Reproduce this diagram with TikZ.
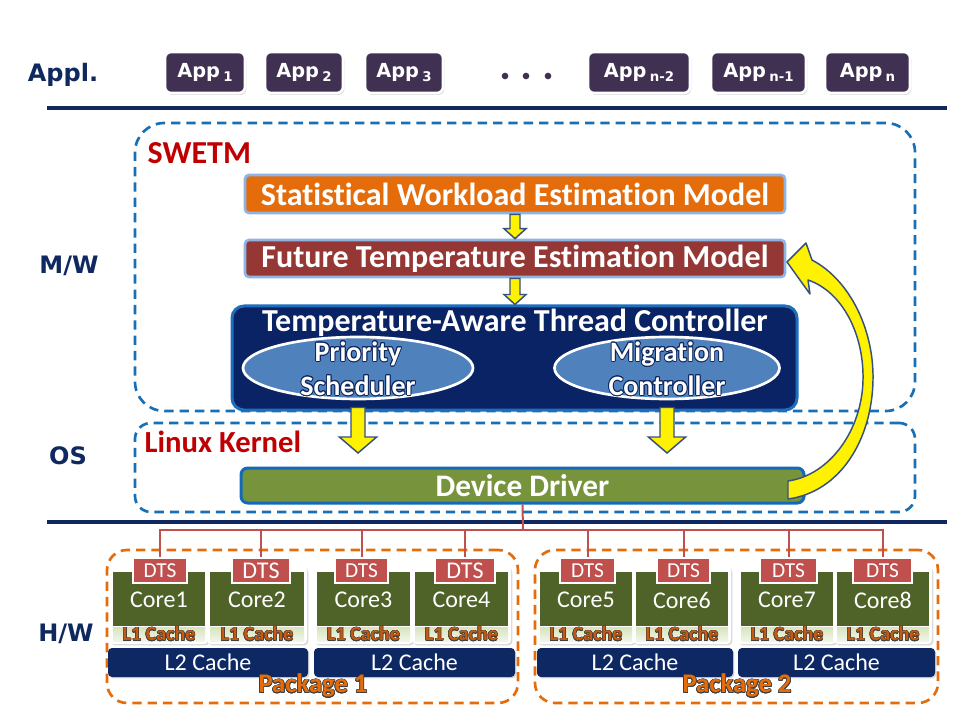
\documentclass[tikz,border=0pt]{standalone}
\usepackage{fontspec}
\setmainfont{Carlito}[Ligatures=NoCommon]
\newfontfamily\vfont{DejaVu Sans}
\usepackage{contour}
\usetikzlibrary{shadows,fit,calc,shapes.geometric}
\definecolor{navy}{RGB}{16,40,96}
\definecolor{appc}{RGB}{64,49,82}
\definecolor{dashblue}{RGB}{23,111,181}
\definecolor{swemc}{RGB}{228,108,10}
\definecolor{lblue}{RGB}{141,180,226}
\definecolor{ftemc}{RGB}{149,55,53}
\definecolor{tatcc}{RGB}{10,35,100}
\definecolor{tatcb}{RGB}{30,110,190}
\definecolor{ellc}{RGB}{79,129,189}
\definecolor{arrline}{RGB}{55,80,125}
\definecolor{ddc}{RGB}{119,147,60}
\definecolor{ddb}{RGB}{20,105,185}
\definecolor{busc}{RGB}{192,80,77}
\definecolor{corec}{RGB}{79,98,40}
\definecolor{l1c}{RGB}{215,228,189}
\definecolor{l1t}{RGB}{197,90,17}
\definecolor{l2c}{RGB}{14,40,100}
\definecolor{pkgc}{RGB}{228,108,10}
\definecolor{swetmred}{RGB}{192,0,0}
\newcommand\appsub[1]{App\,{\fontsize{10}{10}\selectfont\raisebox{-3pt}{#1}}}
\newcommand\yarrow[5]{\path[yarr] let \p1=(#1), \p2=(#2) in (\x1-#3,\y1) -- (\x1-#3,\y2+#5) -- (\x1-#4,\y2+#5) -- (\x1,\y2) -- (\x1+#4,\y2+#5) -- (\x1+#3,\y2+#5) -- (\x1+#3,\y1) -- cycle;}
\begin{document}
\begin{tikzpicture}[x=0.75pt,y=-0.75pt,
  layer/.style={font=\vfont\bfseries\fontsize{18}{20}\selectfont, text=navy},
  appbox/.style={fill=appc, draw=white, line width=2pt, rounded corners=4.5pt, minimum height=30.75pt, text=white, font=\vfont\bfseries\fontsize{14.5}{15}\selectfont, drop shadow={shadow xshift=1pt, shadow yshift=-1.5pt, opacity=0.3}, inner sep=0pt},
  dot/.style={circle, fill=appc, inner sep=0pt, minimum size=5pt},
  sep/.style={draw=navy, line width=2.4pt},
  region/.style={draw=dashblue, line width=2pt, dash pattern=on 7pt off 4.5pt, inner sep=0pt},
  model/.style={draw=lblue, line width=2pt, rounded corners=3pt, minimum width=405pt, text=white, font=\bfseries\fontsize{24}{26}\selectfont, inner sep=0pt},
  tatcbox/.style={fill=tatcc, draw=tatcb, line width=2.25pt, rounded corners=9pt, minimum width=423.75pt, minimum height=78pt, inner sep=0pt},
  ell/.style={ellipse, fill=ellc, draw=white, line width=2pt, inner sep=0pt},
  elltext/.style={align=center, text=white, font=\bfseries\fontsize{21}{25.5}\selectfont},
  yarr/.style={fill=yellow, draw=arrline, line width=1.1pt, line join=miter},
  ddbox/.style={fill=ddc, draw=ddb, line width=2.25pt, rounded corners=5pt, minimum width=422.25pt, minimum height=26.25pt, text=white, font=\bfseries\fontsize{23.5}{24}\selectfont, inner sep=0pt},
  bus/.style={draw=busc, line width=1.5pt},
  pkg/.style={draw=pkgc, line width=2pt, dash pattern=on 7pt off 4.5pt, rounded corners=15pt, inner sep=0pt},
  card/.style={fill=white, rounded corners=3pt, inner sep=0pt, drop shadow={shadow xshift=1pt, shadow yshift=-1pt, opacity=0.3}},
  coreg/.style={fill=corec, inner sep=0pt},
  coretext/.style={text=white, font=\fontsize{18}{20}\selectfont},
  l1/.style={top color=l1c, bottom color=l1c!35!white, inner sep=0pt},
  l1text/.style={text=l1t, font=\bfseries\fontsize{15}{15}\selectfont},
  dts/.style={fill=busc, draw=white, line width=2pt, minimum height=18.75pt, inner sep=0pt, text=white},
  l2/.style={fill=l2c, rounded corners=3pt, inner sep=0pt, drop shadow={shadow xshift=1pt, shadow yshift=-1pt, opacity=0.3}},
  l2text/.style={text=white, font=\fontsize{18}{20}\selectfont},
  pkgtext/.style={text=pkgc, font=\bfseries\fontsize{20}{20}\selectfont},
  redlabel/.style={anchor=west, text=swetmred, font=\bfseries\fontsize{#1}{#1}\selectfont}
]
\useasboundingbox[fill=white] (0,0) rectangle (960,720);

% layer labels
\node[layer] (appl) at (63,75) {Appl.};
\node[layer] (mw) at (69,266) {M/W};
\node[layer] (os) at (68,456) {OS};
\node[layer] (hw) at (66,634) {H/W};

% applications
\node[appbox, minimum width=60pt] (app1) at (205,72.5) {\appsub{1}};
\node[appbox, minimum width=58.5pt] (app2) at (304,72.5) {\appsub{2}};
\node[appbox, minimum width=58.5pt] (app3) at (404,72.5) {\appsub{3}};
\node[appbox, minimum width=76.5pt] (appn2) at (639,72.5) {\appsub{n-2}};
\node[appbox, minimum width=71.25pt] (appn1) at (758.5,72.5) {\appsub{n-1}};
\node[appbox, minimum width=63.75pt] (appn) at (867.5,72.5) {\appsub{n}};
\node[dot] (dot1) at (505,76) {};
\node[dot] (dot2) at (526,76) {};
\node[dot] (dot3) at (548,76) {};

% separators
\coordinate (s1l) at (47,108); \coordinate (s1r) at (947,108);
\coordinate (s2l) at (47,522); \coordinate (s2r) at (947,522);
\draw[sep] (s1l) -- (s1r);
\draw[sep] (s2l) -- (s2r);

% regions
\node[region, rounded corners=22pt, fit={(135,123)(915,411)}] (swetm) {};
\node[region, rounded corners=12pt, fit={(135,423)(915,512)}] (kernel) {};
\node[redlabel=24] (swetml) at (143,153) {SWETM};
\node[redlabel=23] (kernell) at (140,442) {Linux Kernel};

% middleware models
\node[model, fill=swemc, minimum height=28.5pt] (swem) at (515,194) {Statistical Workload Estimation Model};
\node[model, fill=ftemc, minimum height=27.75pt] (ftem) at (515,258.5) {Future Temperature Estimation Model};
\node[tatcbox] (tatc) at (514.5,358) {};
\node[text=white, font=\bfseries\fontsize{24}{26}\selectfont] (tatct) at (515,323) {Temperature-Aware Thread Controller};
\node[ell, minimum width=172.5pt, minimum height=46.5pt] (ps) at (358,368) {};
\node[elltext] (pst) at (358,369) {\contour{navy}{Priority}\\\contour{navy}{Scheduler}};
\node[ell, minimum width=168.75pt, minimum height=46.5pt] (mc) at (667,368) {};
\node[elltext] (mct) at (667,369) {\contour{navy}{Migration}\\\contour{navy}{Controller}};

\yarrow{swem.south}{ftem.north}{3.75pt}{8.25pt}{7.5pt}
\yarrow{ftem.south}{tatc.north}{3.75pt}{8.25pt}{7.5pt}

% device driver
\node[ddbox] (dd) at (522.5,485.5) {Device Driver};
\coordinate (psTop) at ($(ps.south |- tatc.south)+(0,-4)$);
\coordinate (psTip) at (358,453);
\coordinate (mcTop) at ($(mc.south |- tatc.south)+(0,-4)$);
\coordinate (mcTip) at (667,453);
\yarrow{psTop}{psTip}{5.25pt}{14pt}{12pt}
\yarrow{mcTop}{mcTip}{5.25pt}{14pt}{12pt}

% feedback curved arrow
\path[yarr, line join=round] (787,262) -- (806,243) -- (812,260) .. controls (850,280) and (874,330) .. (873,380) .. controls (872,440) and (840,492) .. (788,499) -- (788,481) .. controls (830,475) and (862,430) .. (863,380) .. controls (864,335) and (843,292) .. (808,280) -- (810,294) -- cycle;

% packages
\node[pkg, fit={(107,550)(518,703)}] (pkg1) {};
\node[pkg, fit={(535,550)(938,703)}] (pkg2) {};

% cores
\foreach \i/\xl/\xr in {1/113/205, 2/210/304, 3/317/410, 4/415/508, 5/540/632, 6/636/728, 7/741/833, 8/837/929}{
  \node[card, fit={({\xl-3},567)({\xr+3},644)}] (card\i) {};
  \node[coreg, fit={(\xl,572)(\xr,626)}] (core\i) {};
  \node[l1, fit={(\xl,627)(\xr,641)}] (l1\i) {};
  \node[l1text] (l1t\i) at (l1\i.center) {\contourlength{0.35pt}\contour{black!75}{L1 Cache}};
  \node[coretext] (coret\i) at ($(core\i.center)+(0,1)$) {Core\i};
}
\foreach \i/\cx/\w/\fs in {1/160/54/16, 2/261/58/18, 3/361.5/53/16, 4/465/60/18, 5/587.5/55/16, 6/683.5/53/16, 7/788.5/57/16, 8/882.5/59/16}{
  \node[dts, minimum width=\w*0.75pt, font=\fontsize{\fs}{\fs}\selectfont] (dts\i) at (\cx,570.5) {DTS};
}
\foreach \i/\xl/\xr in {a/108/308, b/314/515, c/537/733, d/738/935}{
  \node[l2, fit={(\xl,648)(\xr,677)}] (l2\i) {};
  \node[l2text] (l2t\i) at (l2\i.center) {L2 Cache};
}
\node[pkgtext] (pkg1t) at (313,686) {\contourlength{0.5pt}\contour{black!75}{Package 1}};
\node[pkgtext] (pkg2t) at (737,686) {\contourlength{0.5pt}\contour{black!75}{Package 2}};

% bus
\coordinate (busj) at (523,530);
\draw[bus] (dd.south) -- (busj);
\foreach \i in {1,...,8}{\draw[bus] (busj) -| (dts\i.north);}
\end{tikzpicture}
\end{document}
